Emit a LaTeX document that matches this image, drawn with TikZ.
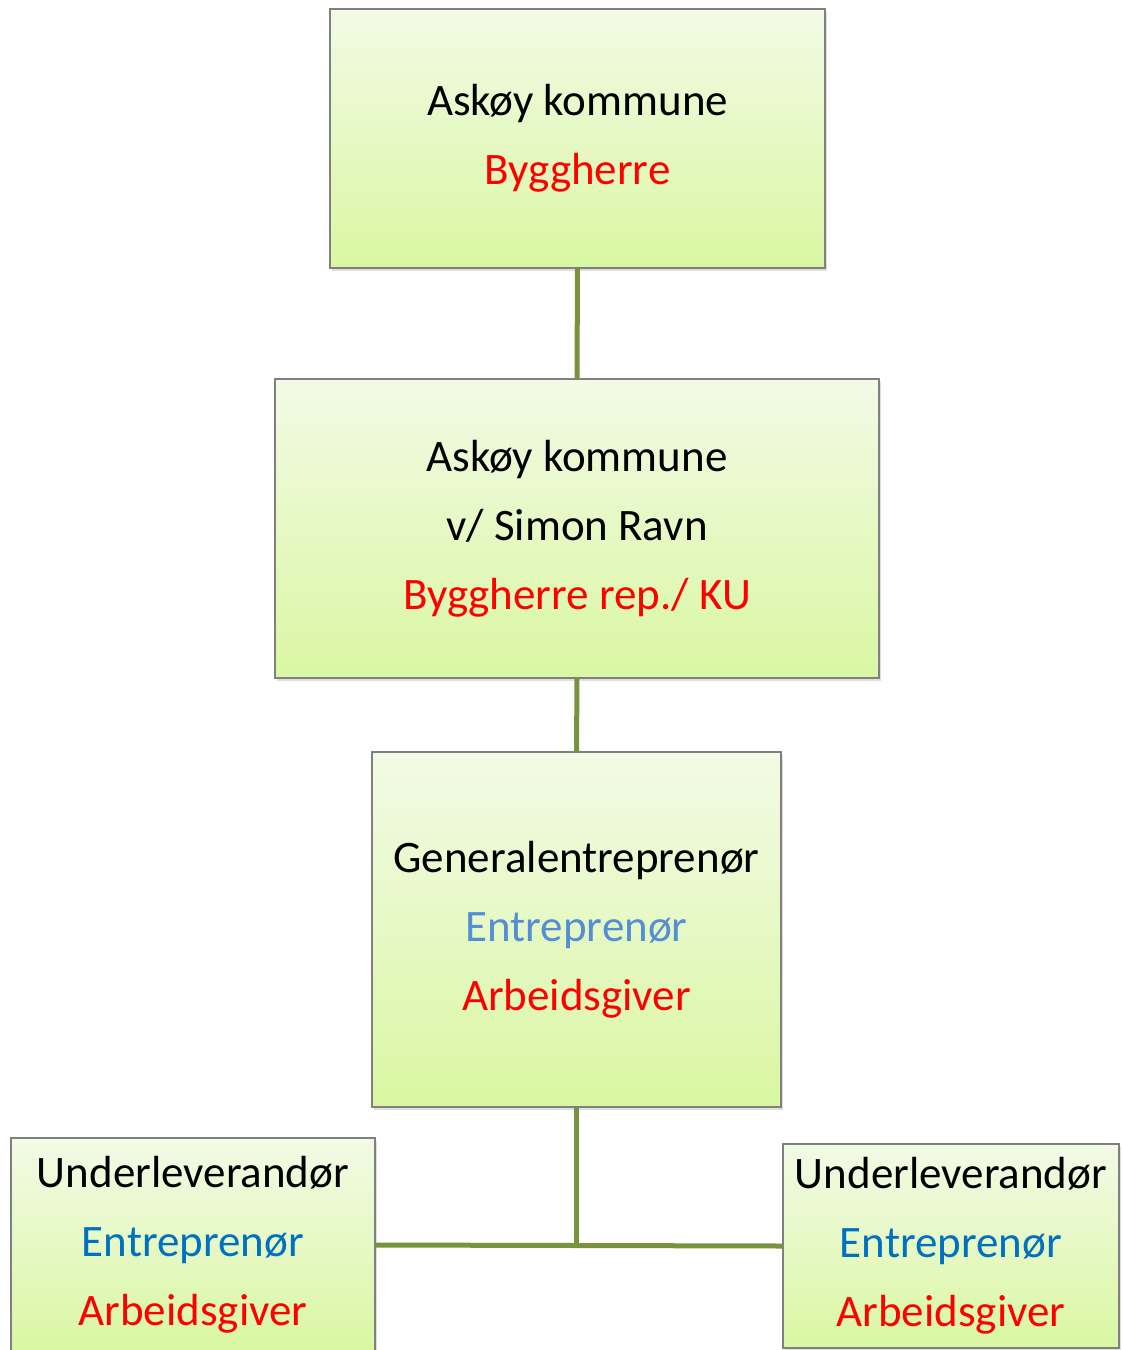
\documentclass[tikz,border=0pt]{standalone}
\usepackage{fontspec}
\setmainfont{Carlito}
\usetikzlibrary{shadows}
\definecolor{boxtop}{RGB}{243,250,230}
\definecolor{boxbot}{RGB}{217,247,162}
\definecolor{boxline}{RGB}{128,128,128}
\definecolor{conn}{RGB}{119,147,60}
\definecolor{txtred}{RGB}{255,0,0}
\definecolor{lblue}{RGB}{85,142,213}
\definecolor{dblue}{RGB}{0,112,192}
\begin{document}
\begin{tikzpicture}[x=1pt,y=-1pt,
  orgbox/.style={draw=boxline, line width=1.2pt, top color=boxtop, bottom color=boxbot,
    align=center, inner sep=0pt, font=\fontsize{45}{69}\selectfont,
    drop shadow={opacity=0.25, shadow xshift=2pt, shadow yshift=-3pt}},
  link/.style={draw=conn, line width=5pt}]
\useasboundingbox (0,0) rectangle (1122,1350);
\node[orgbox, minimum width=495pt, minimum height=259pt] (b1) at (577.5,138.5)
  {Askøy kommune\\\textcolor{txtred}{Byggherre}};
\node[orgbox, minimum width=604pt, minimum height=299pt] (b2) at (577,528.5)
  {Askøy kommune\\v/ Simon Ravn\\\textcolor{txtred}{Byggherre rep./ KU}};
\node[orgbox, minimum width=409pt, minimum height=355pt] (b3) at (576.5,929.5)
  {Generalentreprenør\\\textcolor{lblue}{Entreprenør}\\\textcolor{txtred}{Arbeidsgiver}};
\node[orgbox, minimum width=364pt, minimum height=214pt] (b4) at (193,1245)
  {Underleverandør\\\textcolor{dblue}{Entreprenør}\\\textcolor{txtred}{Arbeidsgiver}};
\node[orgbox, minimum width=336pt, minimum height=204pt] (b5) at (951,1246)
  {Underleverandør\\\textcolor{dblue}{Entreprenør}\\\textcolor{txtred}{Arbeidsgiver}};
\coordinate (j) at (b3.south |- b4.east);
\draw[link] (b1.south) -- (b2.north);
\draw[link] (b2.south) -- (b3.north);
\draw[link] (b3.south) -- (j);
\draw[link] (b4.east) -- (b5.west);
\end{tikzpicture}
\end{document}
